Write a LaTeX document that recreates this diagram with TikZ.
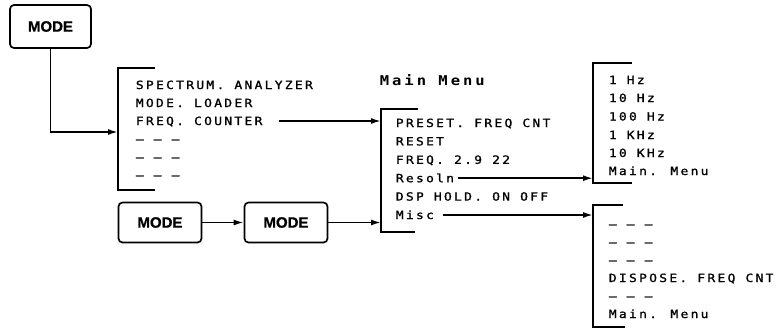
\documentclass[tikz,border=0pt]{standalone}
\usepackage{fontspec}
\usetikzlibrary{arrows.meta}
\newfontfamily\plotfont[FakeStretch=1.15,LetterSpace=20,FakeBold=1.2]{DejaVu Sans Mono}
\newfontfamily\menufont[FakeStretch=1.15,LetterSpace=22]{DejaVu Sans Mono}
\newfontfamily\keyfont[FakeBold=0.8]{Liberation Sans}
\begin{document}
\begin{tikzpicture}[x=1pt,y=-1pt,line width=1.7pt,
  key/.style={draw,rounded corners=4pt,minimum width=83pt,minimum height=40pt,inner sep=0pt,
    font=\keyfont\bfseries\fontsize{15}{15}\selectfont},
  item/.style={anchor=west,inner sep=0pt,text height=8pt,text depth=0pt,
    font=\plotfont\fontsize{11.3}{11.3}\selectfont},
  conn/.style={-{Latex[length=10pt,width=6pt]}}]
\useasboundingbox (0,0) rectangle (780,330);

% MODE keys
\node[key,minimum width=81pt,minimum height=43pt] (m1) at (50.5,26.5) {MODE};
\node[key] (m2) at (160,222.5) {MODE};
\node[key] (m3) at (286,222.5) {MODE};

% bracket 1
\coordinate (b1t) at (118,68);
\coordinate (b1b) at (118,190);
\coordinate (b1in) at (118,132);
\draw ([xshift=37pt]b1t) -- (b1t) -- (b1b) -- ([xshift=37pt]b1b);
\node[item] (a1) at (135,85) {SPECTRUM. ANALYZER};
\node[item] (a2) at (135,103) {MODE. LOADER};
\node[item] (a3) at (135,121) {FREQ. COUNTER};
\node[item] (a4) at (135,139) {— — —};
\node[item] (a5) at (135,157) {— — —};
\node[item] (a6) at (135,175) {— — —};

% bracket 2
\node[anchor=west,inner sep=0pt,text height=10pt,text depth=0pt,
  font=\menufont\bfseries\fontsize{13.5}{13.5}\selectfont] (mm) at (379,80) {Main Menu};
\coordinate (b2t) at (381,109);
\coordinate (b2b) at (381,232);
\draw ([xshift=37pt]b2t) -- (b2t) -- (b2b) -- ([xshift=34pt]b2b);
\node[item] (c1) at (395,123) {PRESET. FREQ CNT};
\node[item] (c2) at (395,141.4) {RESET};
\node[item] (c3) at (395,159.8) {FREQ. 2.9 22};
\node[item] (c4) at (395,178.2) {Resoln};
\node[item] (c5) at (395,196.6) {DSP HOLD. ON OFF};
\node[item] (c6) at (395,215) {Misc};

% bracket 3
\coordinate (b3t) at (593,63);
\coordinate (b3b) at (593,183);
\draw ([xshift=39pt]b3t) -- (b3t) -- (b3b) -- ([xshift=39pt]b3b);
\node[item] (d1) at (608,80) {1 Hz};
\node[item] (d2) at (608,98) {10 Hz};
\node[item] (d3) at (608,116.5) {100 Hz};
\node[item] (d4) at (608,135) {1 KHz};
\node[item] (d5) at (608,153) {10 KHz};
\node[item] (d6) at (608,171) {Main. Menu};

% bracket 4
\coordinate (b4t) at (593,205);
\coordinate (b4b) at (593,327);
\draw ([xshift=30pt]b4t) -- (b4t) -- (b4b) -- ([xshift=32pt]b4b);
\node[item] (e1) at (608,224) {— — —};
\node[item] (e2) at (608,242) {— — —};
\node[item] (e3) at (608,260) {— — —};
\node[item] (e4) at (608,278) {DISPOSE. FREQ CNT};
\node[item] (e5) at (608,296) {— — —};
\node[item] (e6) at (608,314) {Main. Menu};

% connectors
\draw[conn] (m1.south) |- (b1in);
\draw[conn] ([xshift=16pt]a3.east) -- (a3.east -| b2t);
\draw[conn] (m2) -- (m3);
\draw[conn] (m3.east) -- (m3.east -| b2t);
\draw[conn] ([xshift=3pt]c4.east) -- (c4.east -| b3t);
\draw[conn] ([xshift=8pt]c6.east) -- (c6.east -| b4t);
\end{tikzpicture}
\end{document}
